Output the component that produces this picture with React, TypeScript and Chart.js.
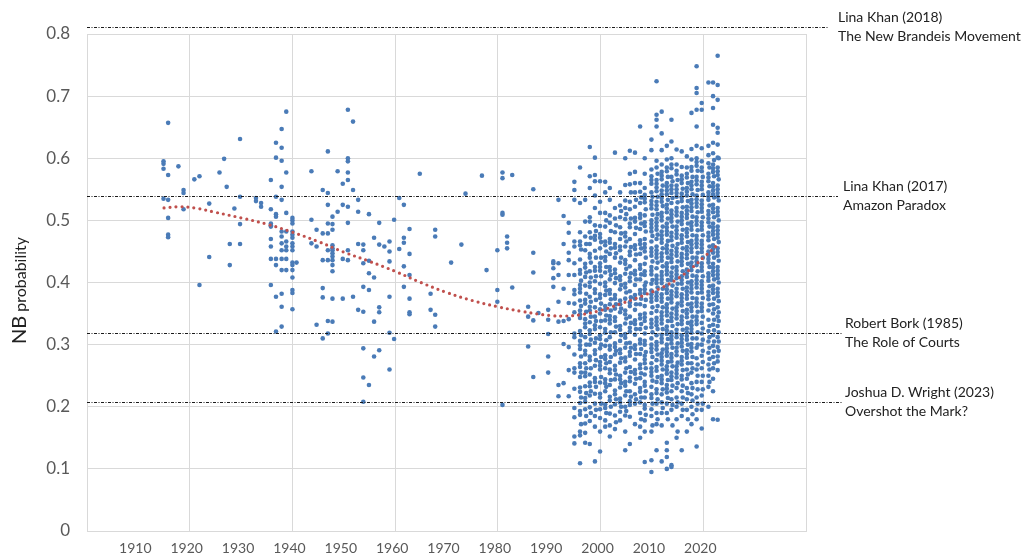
import { useEffect, useRef } from "react";
import { Chart, registerables } from "chart.js";

Chart.register(...registerables);

// Sparse early decisions: one x position per column, values listed top to bottom
const earlyYears = [
  1914.9, 1915.8, 1917.8, 1918.8, 1920.9, 1921.9, 1923.8, 1925.8, 1926.7, 1927.2,
  1927.8, 1928.7, 1929.8, 1932.9, 1933.9, 1935.8, 1936.8, 1937.9, 1938.8, 1940.0,
  1940.8, 1943.7, 1944.7, 1945.9, 1946.9, 1947.8, 1948.8, 1949.8, 1950.8, 1951.8,
  1952.8, 1953.8, 1954.9, 1955.9, 1956.9, 1957.9, 1958.9, 1959.8, 1960.8, 1961.7,
  1962.8, 1964.8, 1966.9, 1967.8, 1970.9, 1972.9, 1973.7, 1976.9, 1977.8, 1979.9,
  1980.9, 1981.8, 1982.8, 1985.9, 1986.9, 1987.9, 1989.8, 1990.8, 1991.8, 1992.8,
  1993.8, 1994.9,
];

const earlyValues = [
  [0.595, 0.591, 0.583, 0.535],
  [0.657, 0.573, 0.533, 0.504, 0.477, 0.473],
  [0.587],
  [0.549, 0.544, 0.518],
  [0.566],
  [0.571, 0.396],
  [0.527, 0.441],
  [0.577],
  [0.599],
  [0.554],
  [0.462, 0.428],
  [0.519],
  [0.631, 0.538, 0.494, 0.462],
  [0.536, 0.531],
  [0.528, 0.522],
  [0.565, 0.518, 0.495, 0.492, 0.49, 0.47, 0.458, 0.438, 0.396],
  [0.625, 0.601, 0.538, 0.51, 0.506, 0.438, 0.428, 0.377, 0.321],
  [0.647, 0.617, 0.596, 0.554, 0.533, 0.482, 0.474, 0.463, 0.452, 0.438, 0.42, 0.382, 0.361, 0.329],
  [0.675, 0.577, 0.512, 0.482, 0.466, 0.458, 0.452, 0.438, 0.42],
  [0.504, 0.5, 0.495, 0.482, 0.477, 0.472, 0.463, 0.458, 0.452, 0.432, 0.428, 0.42, 0.408, 0.388, 0.383, 0.357],
  [0.432],
  [0.579, 0.501, 0.463],
  [0.485, 0.458, 0.332],
  [0.549, 0.479, 0.436, 0.391, 0.376, 0.31],
  [0.611, 0.544, 0.525, 0.495, 0.479, 0.452, 0.436, 0.338, 0.318],
  [0.506, 0.494, 0.485, 0.46, 0.455, 0.452, 0.447, 0.442, 0.436, 0.428, 0.418, 0.374, 0.337],
  [0.579, 0.514],
  [0.559, 0.525, 0.438, 0.374],
  [0.678, 0.6, 0.595, 0.577, 0.565, 0.522, 0.496, 0.452, 0.436],
  [0.659, 0.549, 0.377],
  [0.533, 0.514, 0.462, 0.356],
  [0.461, 0.452, 0.431, 0.393, 0.353, 0.294, 0.247, 0.208],
  [0.51, 0.435, 0.415, 0.388, 0.235],
  [0.472, 0.408, 0.337, 0.281],
  [0.496, 0.461, 0.36, 0.352, 0.291],
  [0.458],
  [0.466, 0.45, 0.434, 0.377, 0.319, 0.26],
  [0.501, 0.309],
  [0.536, 0.454],
  [0.525, 0.472, 0.464, 0.426, 0.393],
  [0.486, 0.446, 0.412, 0.374, 0.352, 0.349],
  [0.575],
  [0.382, 0.356],
  [0.485, 0.474, 0.348, 0.329],
  [0.432],
  [0.461],
  [0.543],
  [0.572],
  [0.42],
  [0.452, 0.388, 0.369],
  [0.577, 0.568, 0.512, 0.509, 0.203],
  [0.474, 0.464, 0.455],
  [0.573, 0.392],
  [0.361, 0.345, 0.297],
  [0.55, 0.448, 0.416, 0.339, 0.248],
  [0.351],
  [0.356, 0.34, 0.317, 0.281, 0.255],
  [0.434, 0.431, 0.423, 0.407, 0.393],
  [0.533, 0.431, 0.412, 0.369, 0.337, 0.235, 0.217],
  [0.507, 0.462, 0.39, 0.338, 0.301, 0.238],
  [0.496, 0.48, 0.448, 0.436, 0.412, 0.367, 0.341, 0.296, 0.259, 0.217],
  [0.562, 0.549, 0.533, 0.466, 0.458, 0.431, 0.412, 0.388, 0.381, 0.366, 0.352, 0.318, 0.312, 0.284, 0.262, 0.255, 0.229, 0.198, 0.183, 0.152, 0.141],
];

// Dense recent decisions, one column per year
const recentYears = [
  1996.0, 1997.0, 1997.9, 1998.9, 1999.9, 2000.9, 2001.8, 2002.8, 2003.8, 2004.8,
  2005.7, 2006.7, 2007.7, 2008.6, 2009.9, 2010.9, 2011.9, 2012.9, 2013.8, 2014.8,
  2015.8, 2016.8, 2017.7, 2018.7, 2019.7, 2021.0, 2021.9, 2022.8,
];

const recentValues = [
  [0.585, 0.528, 0.481, 0.466, 0.46, 0.437, 0.42, 0.414, 0.396, 0.39, 0.384, 0.371, 0.355, 0.349, 0.343, 0.322, 0.306, 0.299, 0.293, 0.27, 0.264, 0.248, 0.231, 0.224, 0.206, 0.193, 0.187, 0.16, 0.154, 0.109],
  [0.533, 0.498, 0.474, 0.452, 0.43, 0.424, 0.409, 0.395, 0.372, 0.366, 0.341, 0.334, 0.328, 0.312, 0.29, 0.284, 0.27, 0.255, 0.249, 0.233, 0.214, 0.208, 0.196, 0.173, 0.158, 0.142],
  [0.618, 0.571, 0.552, 0.505, 0.498, 0.481, 0.462, 0.446, 0.44, 0.418, 0.4, 0.393, 0.377, 0.361, 0.355, 0.336, 0.323, 0.317, 0.3, 0.281, 0.275, 0.252, 0.239, 0.233, 0.218, 0.199, 0.177, 0.14],
  [0.601, 0.573, 0.563, 0.54, 0.52, 0.492, 0.475, 0.469, 0.451, 0.425, 0.419, 0.402, 0.389, 0.383, 0.36, 0.345, 0.331, 0.325, 0.303, 0.291, 0.285, 0.266, 0.246, 0.24, 0.221, 0.205, 0.185, 0.168, 0.112],
  [0.563, 0.53, 0.512, 0.491, 0.478, 0.472, 0.455, 0.431, 0.425, 0.419, 0.398, 0.381, 0.375, 0.357, 0.35, 0.328, 0.315, 0.309, 0.294, 0.272, 0.266, 0.26, 0.239, 0.221, 0.215, 0.196, 0.182, 0.16, 0.128],
  [0.562, 0.545, 0.512, 0.49, 0.466, 0.46, 0.441, 0.435, 0.416, 0.4, 0.394, 0.38, 0.362, 0.356, 0.339, 0.325, 0.319, 0.298, 0.283, 0.277, 0.262, 0.244, 0.238, 0.225, 0.204, 0.198, 0.178, 0.168],
  [0.552, 0.533, 0.508, 0.496, 0.47, 0.464, 0.446, 0.425, 0.419, 0.405, 0.388, 0.382, 0.365, 0.346, 0.34, 0.334, 0.312, 0.298, 0.292, 0.272, 0.26, 0.254, 0.235, 0.216, 0.21, 0.189, 0.17, 0.152],
  [0.609, 0.52, 0.503, 0.481, 0.462, 0.456, 0.44, 0.421, 0.415, 0.399, 0.38, 0.374, 0.358, 0.344, 0.338, 0.32, 0.302, 0.296, 0.284, 0.266, 0.259, 0.244, 0.226, 0.22, 0.204, 0.186, 0.164],
  [0.545, 0.524, 0.505, 0.489, 0.47, 0.458, 0.452, 0.432, 0.41, 0.404, 0.389, 0.371, 0.365, 0.352, 0.33, 0.324, 0.306, 0.292, 0.286, 0.271, 0.25, 0.244, 0.231, 0.213, 0.207, 0.192, 0.178],
  [0.6, 0.557, 0.532, 0.52, 0.502, 0.48, 0.474, 0.458, 0.436, 0.43, 0.414, 0.398, 0.392, 0.374, 0.355, 0.349, 0.334, 0.317, 0.311, 0.295, 0.279, 0.273, 0.255, 0.24, 0.234, 0.218, 0.2, 0.186, 0.16, 0.13],
  [0.612, 0.575, 0.558, 0.53, 0.518, 0.495, 0.489, 0.47, 0.45, 0.444, 0.426, 0.408, 0.402, 0.386, 0.368, 0.362, 0.345, 0.327, 0.321, 0.303, 0.288, 0.282, 0.264, 0.247, 0.241, 0.225, 0.209, 0.203, 0.184, 0.14],
  [0.609, 0.578, 0.56, 0.545, 0.522, 0.504, 0.498, 0.478, 0.46, 0.454, 0.436, 0.419, 0.413, 0.396, 0.38, 0.374, 0.356, 0.339, 0.333, 0.316, 0.299, 0.293, 0.276, 0.259, 0.253, 0.237, 0.22, 0.205, 0.172],
  [0.651, 0.56, 0.546, 0.528, 0.51, 0.504, 0.486, 0.468, 0.462, 0.446, 0.428, 0.422, 0.405, 0.388, 0.382, 0.365, 0.348, 0.342, 0.325, 0.308, 0.302, 0.285, 0.268, 0.262, 0.246, 0.23, 0.224, 0.207, 0.19, 0.168, 0.15],
  [0.6, 0.575, 0.552, 0.541, 0.535, 0.529, 0.508, 0.497, 0.491, 0.47, 0.462, 0.456, 0.45, 0.43, 0.418, 0.412, 0.395, 0.389, 0.383, 0.362, 0.35, 0.344, 0.338, 0.318, 0.306, 0.3, 0.282, 0.276, 0.27, 0.252, 0.24, 0.234, 0.215, 0.203, 0.197, 0.178, 0.16, 0.111],
  [0.63, 0.613, 0.582, 0.571, 0.565, 0.559, 0.545, 0.531, 0.525, 0.519, 0.5, 0.494, 0.488, 0.482, 0.466, 0.455, 0.449, 0.443, 0.425, 0.419, 0.413, 0.398, 0.387, 0.381, 0.375, 0.369, 0.351, 0.34, 0.334, 0.328, 0.31, 0.3, 0.294, 0.288, 0.27, 0.262, 0.256, 0.25, 0.232, 0.22, 0.214, 0.196, 0.185, 0.16, 0.114, 0.095],
  [0.724, 0.67, 0.662, 0.651, 0.596, 0.585, 0.565, 0.559, 0.553, 0.547, 0.53, 0.524, 0.518, 0.503, 0.497, 0.491, 0.485, 0.47, 0.458, 0.452, 0.446, 0.44, 0.423, 0.411, 0.405, 0.399, 0.384, 0.378, 0.372, 0.354, 0.343, 0.337, 0.331, 0.315, 0.304, 0.298, 0.292, 0.275, 0.264, 0.258, 0.24, 0.228, 0.222, 0.205, 0.19, 0.172, 0.13],
  [0.675, 0.64, 0.613, 0.59, 0.578, 0.572, 0.566, 0.548, 0.542, 0.536, 0.53, 0.512, 0.506, 0.5, 0.482, 0.476, 0.47, 0.464, 0.447, 0.441, 0.435, 0.417, 0.411, 0.405, 0.399, 0.381, 0.375, 0.369, 0.352, 0.346, 0.34, 0.334, 0.316, 0.31, 0.304, 0.286, 0.28, 0.274, 0.268, 0.25, 0.244, 0.238, 0.22, 0.207, 0.19, 0.17, 0.112],
  [0.62, 0.598, 0.585, 0.579, 0.56, 0.554, 0.548, 0.542, 0.525, 0.519, 0.513, 0.495, 0.489, 0.483, 0.477, 0.46, 0.454, 0.448, 0.431, 0.425, 0.419, 0.413, 0.395, 0.389, 0.383, 0.365, 0.359, 0.353, 0.347, 0.329, 0.323, 0.317, 0.3, 0.294, 0.288, 0.282, 0.265, 0.259, 0.253, 0.235, 0.229, 0.223, 0.205, 0.19, 0.142, 0.13, 0.119, 0.1],
  [0.662, 0.627, 0.6, 0.59, 0.584, 0.57, 0.556, 0.55, 0.544, 0.528, 0.516, 0.51, 0.504, 0.498, 0.48, 0.474, 0.468, 0.451, 0.445, 0.439, 0.433, 0.416, 0.41, 0.404, 0.386, 0.38, 0.374, 0.368, 0.35, 0.344, 0.338, 0.32, 0.314, 0.308, 0.302, 0.285, 0.279, 0.273, 0.255, 0.249, 0.243, 0.225, 0.212, 0.195, 0.106, 0.103],
  [0.614, 0.59, 0.58, 0.574, 0.556, 0.55, 0.544, 0.538, 0.52, 0.514, 0.508, 0.49, 0.484, 0.478, 0.472, 0.455, 0.449, 0.443, 0.425, 0.419, 0.413, 0.407, 0.39, 0.384, 0.378, 0.36, 0.354, 0.348, 0.342, 0.324, 0.318, 0.312, 0.295, 0.289, 0.283, 0.265, 0.259, 0.253, 0.247, 0.23, 0.215, 0.2, 0.18, 0.15],
  [0.611, 0.586, 0.572, 0.566, 0.56, 0.543, 0.537, 0.531, 0.512, 0.506, 0.5, 0.494, 0.476, 0.47, 0.464, 0.446, 0.44, 0.434, 0.428, 0.41, 0.404, 0.398, 0.381, 0.375, 0.369, 0.363, 0.345, 0.339, 0.333, 0.315, 0.309, 0.303, 0.297, 0.28, 0.274, 0.268, 0.25, 0.244, 0.225, 0.205, 0.185, 0.13],
  [0.603, 0.585, 0.575, 0.569, 0.552, 0.546, 0.54, 0.522, 0.516, 0.51, 0.504, 0.486, 0.48, 0.474, 0.457, 0.451, 0.445, 0.439, 0.421, 0.415, 0.409, 0.392, 0.386, 0.38, 0.374, 0.356, 0.35, 0.344, 0.326, 0.32, 0.314, 0.308, 0.291, 0.285, 0.279, 0.26, 0.245, 0.23, 0.212, 0.195, 0.16],
  [0.673, 0.615, 0.598, 0.586, 0.58, 0.562, 0.556, 0.55, 0.533, 0.527, 0.521, 0.515, 0.497, 0.491, 0.485, 0.467, 0.461, 0.455, 0.449, 0.432, 0.426, 0.42, 0.402, 0.396, 0.39, 0.384, 0.366, 0.36, 0.354, 0.337, 0.331, 0.325, 0.319, 0.301, 0.295, 0.289, 0.27, 0.255, 0.238, 0.22, 0.2, 0.172],
  [0.748, 0.713, 0.705, 0.678, 0.651, 0.62, 0.6, 0.594, 0.588, 0.57, 0.564, 0.558, 0.54, 0.534, 0.528, 0.522, 0.505, 0.499, 0.493, 0.475, 0.469, 0.463, 0.457, 0.44, 0.434, 0.428, 0.41, 0.404, 0.398, 0.392, 0.374, 0.368, 0.362, 0.345, 0.339, 0.333, 0.31, 0.295, 0.278, 0.26, 0.24, 0.215, 0.195, 0.18, 0.136],
  [0.689, 0.678, 0.616, 0.595, 0.585, 0.579, 0.562, 0.556, 0.55, 0.532, 0.526, 0.52, 0.514, 0.497, 0.491, 0.485, 0.467, 0.461, 0.455, 0.449, 0.431, 0.425, 0.419, 0.402, 0.396, 0.39, 0.384, 0.366, 0.36, 0.354, 0.335, 0.318, 0.3, 0.282, 0.262, 0.24, 0.218, 0.195, 0.165],
  [0.722, 0.62, 0.605, 0.592, 0.575, 0.569, 0.563, 0.545, 0.539, 0.533, 0.515, 0.509, 0.503, 0.497, 0.48, 0.474, 0.468, 0.45, 0.444, 0.438, 0.432, 0.415, 0.409, 0.403, 0.385, 0.379, 0.373, 0.355, 0.34, 0.322, 0.305, 0.287, 0.268, 0.25, 0.232, 0.2],
  [0.722, 0.7, 0.681, 0.654, 0.625, 0.608, 0.59, 0.584, 0.578, 0.56, 0.554, 0.548, 0.542, 0.525, 0.519, 0.513, 0.495, 0.489, 0.483, 0.477, 0.46, 0.454, 0.448, 0.43, 0.424, 0.418, 0.412, 0.395, 0.389, 0.383, 0.365, 0.35, 0.332, 0.315, 0.298, 0.28, 0.262, 0.245, 0.225, 0.18],
  [0.765, 0.718, 0.694, 0.649, 0.641, 0.622, 0.601, 0.585, 0.579, 0.573, 0.556, 0.55, 0.544, 0.538, 0.52, 0.514, 0.508, 0.49, 0.484, 0.478, 0.472, 0.455, 0.449, 0.443, 0.425, 0.419, 0.413, 0.407, 0.39, 0.384, 0.378, 0.36, 0.345, 0.33, 0.312, 0.296, 0.281, 0.273, 0.259, 0.179],
];

// Same-year decisions sitting just right of each recent column
const recentSideYears = [
  1996.2, 1997.2, 1998.1, 1999.1, 2000.1, 2001.1, 2002.0, 2003.0, 2004.0, 2005.0,
  2005.9, 2006.9, 2007.9, 2008.8, 2010.1, 2011.1, 2012.1, 2013.1, 2014.0, 2015.0,
  2016.0, 2017.0, 2017.9, 2018.9, 2019.9, 2021.2, 2022.1, 2023.0,
];

const recentSideValues = [
  [0.453, 0.403, 0.362, 0.315, 0.281, 0.255, 0.215, 0.172],
  [0.462, 0.416, 0.382, 0.353, 0.3, 0.262, 0.222, 0.185],
  [0.472, 0.432, 0.408, 0.369, 0.345, 0.308, 0.262, 0.225, 0.19],
  [0.483, 0.44, 0.41, 0.372, 0.338, 0.31, 0.275, 0.232, 0.195],
  [0.465, 0.44, 0.41, 0.366, 0.338, 0.3, 0.28, 0.248, 0.205],
  [0.5, 0.45, 0.425, 0.387, 0.347, 0.307, 0.27, 0.232, 0.19],
  [0.483, 0.455, 0.412, 0.373, 0.355, 0.32, 0.28, 0.243, 0.2],
  [0.492, 0.447, 0.407, 0.365, 0.329, 0.29, 0.252, 0.212, 0.175],
  [0.515, 0.479, 0.44, 0.396, 0.358, 0.315, 0.278, 0.238, 0.2],
  [0.51, 0.466, 0.422, 0.384, 0.342, 0.302, 0.262, 0.225, 0.193],
  [0.545, 0.503, 0.457, 0.415, 0.376, 0.335, 0.295, 0.256, 0.216],
  [0.533, 0.488, 0.445, 0.405, 0.365, 0.325, 0.285, 0.245, 0.212],
  [0.537, 0.495, 0.455, 0.413, 0.374, 0.333, 0.293, 0.254, 0.215, 0.18],
  [0.518, 0.482, 0.44, 0.4, 0.372, 0.327, 0.288, 0.262, 0.225, 0.187],
  [0.538, 0.509, 0.475, 0.434, 0.404, 0.36, 0.32, 0.28, 0.242, 0.205, 0.17],
  [0.575, 0.538, 0.51, 0.477, 0.432, 0.392, 0.362, 0.325, 0.284, 0.248, 0.212, 0.18],
  [0.556, 0.523, 0.49, 0.455, 0.426, 0.39, 0.36, 0.325, 0.292, 0.26, 0.228, 0.198],
  [0.57, 0.533, 0.503, 0.467, 0.44, 0.404, 0.374, 0.338, 0.309, 0.272, 0.243, 0.214, 0.18],
  [0.563, 0.536, 0.49, 0.459, 0.424, 0.395, 0.358, 0.33, 0.295, 0.265, 0.234, 0.203, 0.17],
  [0.565, 0.529, 0.498, 0.462, 0.434, 0.398, 0.366, 0.333, 0.302, 0.271, 0.238, 0.207, 0.16],
  [0.551, 0.521, 0.485, 0.455, 0.418, 0.39, 0.354, 0.324, 0.29, 0.259, 0.234, 0.215, 0.195],
  [0.56, 0.531, 0.495, 0.465, 0.43, 0.4, 0.365, 0.335, 0.3, 0.27, 0.252, 0.222, 0.18],
  [0.57, 0.542, 0.506, 0.476, 0.44, 0.411, 0.375, 0.345, 0.31, 0.28, 0.262, 0.23, 0.21, 0.188],
  [0.58, 0.549, 0.513, 0.484, 0.448, 0.418, 0.383, 0.353, 0.32, 0.3, 0.268, 0.25, 0.228, 0.205],
  [0.57, 0.541, 0.505, 0.476, 0.44, 0.41, 0.375, 0.345, 0.326, 0.308, 0.29, 0.272, 0.25, 0.228, 0.205],
  [0.585, 0.555, 0.524, 0.49, 0.458, 0.425, 0.394, 0.364, 0.33, 0.312, 0.295, 0.277, 0.26, 0.24],
  [0.597, 0.571, 0.537, 0.505, 0.47, 0.44, 0.405, 0.374, 0.357, 0.34, 0.323, 0.305, 0.289, 0.27],
  [0.6, 0.566, 0.532, 0.5, 0.465, 0.435, 0.4, 0.37, 0.352, 0.338, 0.32, 0.305, 0.29],
];

// Polynomial trend read along its course
const trendYears = [1915, 1918, 1921, 1925, 1930, 1935, 1940, 1945, 1950, 1955, 1960, 1965, 1970, 1975, 1980, 1985, 1990, 1993, 1996, 2000, 2004, 2008, 2012, 2015, 2018, 2020, 2022.7];
const trendValues = [0.52, 0.522, 0.52, 0.513, 0.504, 0.494, 0.481, 0.466, 0.449, 0.434, 0.418, 0.4, 0.384, 0.371, 0.361, 0.353, 0.347, 0.346, 0.348, 0.355, 0.366, 0.378, 0.392, 0.406, 0.425, 0.44, 0.46];

// Reference papers marked as horizontal lines
const refValues = [0.811, 0.54, 0.319, 0.207];
const refAuthors = ["Lina Khan (2018)", "Lina Khan (2017)", "Robert Bork (1985)", "Joshua D. Wright (2023)"];
const refTitles = ["The New Brandeis Movement", "Amazon Paradox", "The Role of Courts", "Overshot the Mark?"];

const refLinePlugin = {
  id: "refLines",
  afterDraw(chart: any) {
    const { ctx, scales, chartArea } = chart;
    const y = scales.y;
    const lineEnds = [828, 838, 842, 842];
    const textX = [838, 843, 845, 845];
    ctx.save();
    refValues.forEach((v, i) => {
      const py = Math.round(y.getPixelForValue(v)) + 0.5;
      ctx.strokeStyle = "#1a1a1a";
      ctx.lineWidth = 1;
      ctx.setLineDash([3, 1.5, 1, 1.5]);
      ctx.beginPath();
      ctx.moveTo(chartArea.left, py);
      ctx.lineTo(lineEnds[i], py);
      ctx.stroke();
      ctx.setLineDash([]);
      ctx.fillStyle = "#222";
      ctx.font = "14px Lato";
      ctx.textAlign = "left";
      ctx.textBaseline = "middle";
      ctx.fillText(refAuthors[i], textX[i], py - 10);
      ctx.fillText(refTitles[i], textX[i], py + 8.5);
    });
    // axis title: "NB" with a smaller "probability"
    ctx.translate(26, 344);
    ctx.rotate(-Math.PI / 2);
    ctx.textAlign = "left";
    ctx.textBaseline = "alphabetic";
    ctx.fillStyle = "#222";
    ctx.font = "20px Lato";
    ctx.fillText("NB", 0, 0);
    const w = ctx.measureText("NB").width + 4;
    ctx.font = "16px Lato";
    ctx.fillText("probability", w, 0);
    ctx.restore();
  },
};

export default function App() {
  const canvasRef = useRef<HTMLCanvasElement>(null);

  useEffect(() => {
    const points: { x: number; y: number }[] = [];
    const addColumns = (years: number[], values: number[][]) =>
      years.forEach((yr, i) => values[i].forEach((v) => points.push({ x: yr, y: v })));
    addColumns(earlyYears, earlyValues);
    addColumns(recentYears, recentValues);
    addColumns(recentSideYears, recentSideValues);
    const trend = trendYears.map((x, i) => ({ x, y: trendValues[i] }));

    const chart = new Chart(canvasRef.current as HTMLCanvasElement, {
      type: "scatter",
      data: {
        datasets: [
          {
            type: "line",
            data: trend,
            borderColor: "#c0504d",
            borderWidth: 3.2,
            borderDash: [0, 6],
            borderCapStyle: "round",
            pointRadius: 0,
            tension: 0.4,
            fill: false,
            order: 0,
          } as any,
          {
            data: points,
            pointRadius: 2.3,
            pointBackgroundColor: "#4a7bb7",
            pointBorderWidth: 0,
            order: 1,
          },
        ],
      },
      options: {
        responsive: false,
        animation: false,
        devicePixelRatio: 1,
        events: [],
        layout: { padding: { left: 0, right: 218, top: 34, bottom: 0 } },
        plugins: { legend: { display: false }, tooltip: { enabled: false } },
        scales: {
          x: {
            type: "linear",
            min: 1900,
            max: 2040,
            afterFit: (s: any) => {
              s.height = 24;
            },
            border: { color: "#d9d9d9" },
            grid: {
              drawTicks: false,
              color: (c: any) => (c.tick && c.tick.value % 20 === 0 ? "#d9d9d9" : "rgba(0,0,0,0)"),
            },
            ticks: {
              stepSize: 10,
              autoSkip: false,
              maxRotation: 0,
              padding: 9,
              labelOffset: -3,
              color: "#595959",
              font: { family: "Lato", size: 14 },
              callback: (v: any) => (v >= 1910 && v <= 2020 ? String(v) : ""),
            },
          },
          y: {
            min: 0,
            max: 0.8,
            afterFit: (s: any) => {
              // fixed gutter; the tick labels need no extra vertical room
              s.width = 87;
              s.paddingTop = 0;
              s.paddingBottom = 0;
            },
            border: { color: "#d9d9d9" },
            grid: { drawTicks: false, color: "#d9d9d9" },
            ticks: {
              stepSize: 0.1,
              padding: 17,
              color: "#595959",
              font: { family: "Lato", size: 17 },
              callback: (v: any) => (Math.abs(v) < 1e-9 ? "0" : Number(v).toFixed(1)),
            },
          },
        },
      },
      plugins: [refLinePlugin],
    });
    return () => chart.destroy();
  }, []);

  return (
    <div style={{ position: "absolute", left: 0, top: 0, width: 1024, height: 555, background: "#fff" }}>
      <canvas ref={canvasRef} width={1024} height={555} style={{ display: "block" }} />
    </div>
  );
}
